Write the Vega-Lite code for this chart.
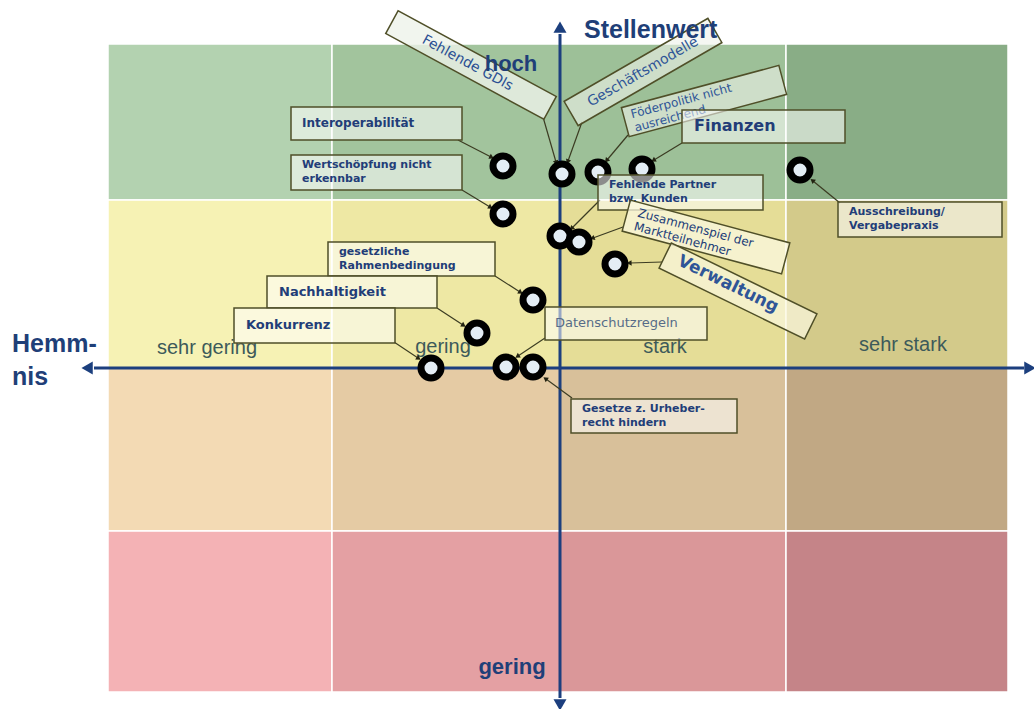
{
  "$schema": "https://vega.github.io/schema/vega-lite/v6.json",
  "width": 1034,
  "height": 709,
  "autosize": {"type": "none"},
  "padding": 0,
  "background": "white",
  "config": {"view": {"stroke": null}},
  "datasets": {
    "cells": [
      {"cell": "a1", "x": 108, "x2": 332, "y": 44, "y2": 200},
      {"cell": "a2", "x": 332, "x2": 560, "y": 44, "y2": 200},
      {"cell": "a3", "x": 560, "x2": 786, "y": 44, "y2": 200},
      {"cell": "a4", "x": 786, "x2": 1008, "y": 44, "y2": 200},
      {"cell": "b1", "x": 108, "x2": 332, "y": 200, "y2": 368},
      {"cell": "b2", "x": 332, "x2": 560, "y": 200, "y2": 368},
      {"cell": "b3", "x": 560, "x2": 786, "y": 200, "y2": 368},
      {"cell": "b4", "x": 786, "x2": 1008, "y": 200, "y2": 368},
      {"cell": "c1", "x": 108, "x2": 332, "y": 368, "y2": 531},
      {"cell": "c2", "x": 332, "x2": 560, "y": 368, "y2": 531},
      {"cell": "c3", "x": 560, "x2": 786, "y": 368, "y2": 531},
      {"cell": "c4", "x": 786, "x2": 1008, "y": 368, "y2": 531},
      {"cell": "d1", "x": 108, "x2": 332, "y": 531, "y2": 692},
      {"cell": "d2", "x": 332, "x2": 560, "y": 531, "y2": 692},
      {"cell": "d3", "x": 560, "x2": 786, "y": 531, "y2": 692},
      {"cell": "d4", "x": 786, "x2": 1008, "y": 531, "y2": 692}
    ],
    "rowlabels": [
      {"t": "sehr gering", "x": 207, "y": 348},
      {"t": "gering", "x": 443, "y": 347},
      {"t": "stark", "x": 665, "y": 347},
      {"t": "sehr stark", "x": 903, "y": 345}
    ],
    "axislines": [
      {"x": 94, "y": 368, "x2": 1024, "y2": 368},
      {"x": 560, "y": 34, "x2": 560, "y2": 698}
    ],
    "axisheads": [
      {"x": 89, "y": 368, "ang": 270},
      {"x": 1028, "y": 368, "ang": 90},
      {"x": 560, "y": 29, "ang": 0},
      {"x": 560, "y": 703, "ang": 180}
    ],
    "arrows": [
      {"x": 458, "y": 140, "x2": 491, "y2": 157, "ang": 117},
      {"x": 543, "y": 117, "x2": 556, "y2": 162, "ang": 164},
      {"x": 582, "y": 122, "x2": 568, "y2": 161, "ang": 200},
      {"x": 628, "y": 135, "x2": 607, "y2": 160, "ang": 220},
      {"x": 682, "y": 143, "x2": 654, "y2": 160, "ang": 239},
      {"x": 840, "y": 203, "x2": 813, "y2": 181, "ang": 309},
      {"x": 462, "y": 190, "x2": 490, "y2": 207, "ang": 121},
      {"x": 600, "y": 200, "x2": 572, "y2": 228, "ang": 225},
      {"x": 623, "y": 227, "x2": 593, "y2": 238, "ang": 250},
      {"x": 662, "y": 262, "x2": 630, "y2": 263, "ang": 268},
      {"x": 495, "y": 276, "x2": 520, "y2": 292, "ang": 123},
      {"x": 437, "y": 308, "x2": 463, "y2": 325, "ang": 123},
      {"x": 394, "y": 342, "x2": 418, "y2": 358, "ang": 124},
      {"x": 545, "y": 338, "x2": 518, "y2": 356, "ang": 236},
      {"x": 572, "y": 398, "x2": 546, "y2": 379, "ang": 306}
    ],
    "points": [
      {"x": 503, "y": 166}, {"x": 562, "y": 174}, {"x": 598, "y": 172},
      {"x": 642, "y": 169}, {"x": 800, "y": 170}, {"x": 503, "y": 214},
      {"x": 560, "y": 236}, {"x": 579, "y": 242}, {"x": 615, "y": 264},
      {"x": 533, "y": 300}, {"x": 477, "y": 333}, {"x": 431, "y": 368},
      {"x": 506, "y": 367}, {"x": 533, "y": 367}
    ],
    "tilted": [
      {"id": "gdi", "t": "Fehlende GDIs", "x": 471, "y": 65},
      {"id": "gm", "t": "Geschäftsmodelle", "x": 643, "y": 72},
      {"id": "foe", "t": "Föderpolitik nicht\nausreichend", "x": 704, "y": 101},
      {"id": "zus", "t": "Zusammenspiel der\nMarktteilnehmer", "x": 706, "y": 237},
      {"id": "ver", "t": "Verwaltung", "x": 738, "y": 291}
    ],
    "boxes": [
      {"t": "Interoperabilität", "x": 291, "x2": 462, "y": 107, "y2": 140, "ty": 123},
      {"t": "Wertschöpfung nicht\nerkennbar", "x": 291, "x2": 462, "y": 155, "y2": 190, "ty": 172},
      {"t": "Fehlende Partner\nbzw. Kunden", "x": 598, "x2": 763, "y": 175, "y2": 210, "ty": 192},
      {"t": "Ausschreibung/\nVergabepraxis", "x": 838, "x2": 1002, "y": 202, "y2": 237, "ty": 219},
      {"t": "gesetzliche\nRahmenbedingung", "x": 328, "x2": 495, "y": 242, "y2": 276, "ty": 259},
      {"t": "Nachhaltigkeit", "x": 267, "x2": 437, "y": 276, "y2": 308, "ty": 292},
      {"t": "Konkurrenz", "x": 234, "x2": 395, "y": 308, "y2": 343, "ty": 325},
      {"t": "Datenschutzregeln", "x": 545, "x2": 707, "y": 307, "y2": 340, "ty": 323},
      {"t": "Gesetze z. Urheber-\nrecht hindern", "x": 571, "x2": 737, "y": 399, "y2": 433, "ty": 416},
      {"t": "Finanzen", "x": 682, "x2": 845, "y": 110, "y2": 143, "ty": 126}
    ],
    "titles": [
      {"t": "Stellenwert", "x": 584, "y": 30, "pos": "left"},
      {"t": "hoch", "x": 511, "y": 64, "pos": "center"},
      {"t": "gering", "x": 512, "y": 667, "pos": "center"},
      {"t": "Hemm-", "x": 12, "y": 344, "pos": "left"},
      {"t": "nis", "x": 12, "y": 377, "pos": "left"}
    ]
  },
  "encoding": {
    "x": {"field": "x", "type": "quantitative", "scale": {"domain": [0, 1034], "nice": false, "zero": false}, "axis": null},
    "y": {"field": "y", "type": "quantitative", "scale": {"domain": [0, 709], "reverse": true, "nice": false, "zero": false}, "axis": null}
  },
  "layer": [
    {
      "data": {"name": "cells"},
      "mark": {"type": "rect", "stroke": "white", "strokeWidth": 1.5},
      "encoding": {
        "x2": {"field": "x2"},
        "y2": {"field": "y2"},
        "color": {
          "field": "cell", "type": "nominal", "legend": null,
          "scale": {
            "domain": ["a1","a2","a3","a4","b1","b2","b3","b4","c1","c2","c3","c4","d1","d2","d3","d4"],
            "range": ["#b3d2b0","#a2c49d","#9dc098","#89ad86","#f6f2b4","#eee8a4","#e5dd97","#d3ca8a","#f3dab4","#e5cba4","#d8c09a","#c1a884","#f4b2b5","#e4a0a3","#da9799","#c58488"]
          }
        }
      }
    },
    {
      "data": {"name": "rowlabels"},
      "mark": {"type": "text", "font": "Liberation Sans", "fontSize": 20, "color": "#3d5a5a", "align": "center", "baseline": "middle"},
      "encoding": {"text": {"field": "t"}}
    },
    {
      "data": {"name": "axislines"},
      "mark": {"type": "rule", "color": "#1c3f7e", "strokeWidth": 3},
      "encoding": {"x2": {"field": "x2"}, "y2": {"field": "y2"}}
    },
    {
      "data": {"name": "axisheads"},
      "mark": {"type": "point", "shape": "triangle", "filled": true, "color": "#1c3f7e", "size": 170, "opacity": 1},
      "encoding": {"angle": {"field": "ang", "type": "quantitative", "scale": null}}
    },
    {
      "data": {"name": "arrows"},
      "mark": {"type": "rule", "color": "#3b3b22", "strokeWidth": 1.2},
      "encoding": {"x2": {"field": "x2"}, "y2": {"field": "y2"}}
    },
    {
      "data": {"name": "arrows"},
      "mark": {"type": "point", "shape": "triangle", "filled": true, "color": "#222211", "size": 30, "opacity": 1},
      "encoding": {
        "x": {"field": "x2", "type": "quantitative", "scale": {"domain": [0, 1034], "nice": false, "zero": false}, "axis": null},
        "y": {"field": "y2", "type": "quantitative", "scale": {"domain": [0, 709], "reverse": true, "nice": false, "zero": false}, "axis": null},
        "angle": {"field": "ang", "type": "quantitative", "scale": null}
      }
    },
    {
      "data": {"name": "points"},
      "mark": {"type": "point", "shape": "circle", "filled": true, "fill": "#e4edf5", "stroke": "black", "strokeWidth": 7, "size": 400, "opacity": 1}
    },
    {
      "data": {"name": "tilted"},
      "transform": [{"filter": "datum.id === 'gdi'"}],
      "mark": {"type": "point", "shape": "M-1,-0.144L1,-0.144L1,0.144L-1,0.144Z", "size": 32400, "angle": 28.5, "filled": true, "fill": "#eef2ea", "fillOpacity": 0.8, "stroke": "#4f4f28", "strokeWidth": 1.5, "opacity": 1}
    },
    {
      "data": {"name": "tilted"},
      "transform": [{"filter": "datum.id === 'gdi'"}],
      "mark": {"type": "text", "font": "DejaVu Sans", "fontSize": 14, "color": "#2a4f93", "angle": 28.5, "align": "center", "baseline": "middle", "dx": -4},
      "encoding": {"text": {"field": "t"}}
    },
    {
      "data": {"name": "tilted"},
      "transform": [{"filter": "datum.id === 'gm'"}],
      "mark": {"type": "point", "shape": "M-1,-0.169L1,-0.169L1,0.169L-1,0.169Z", "size": 27556, "angle": 330, "filled": true, "fill": "#eef2ea", "fillOpacity": 0.6, "stroke": "#4f4f28", "strokeWidth": 1.5, "opacity": 1}
    },
    {
      "data": {"name": "tilted"},
      "transform": [{"filter": "datum.id === 'gm'"}],
      "mark": {"type": "text", "font": "DejaVu Sans", "fontSize": 14, "color": "#2f5597", "angle": 330, "align": "center", "baseline": "middle"},
      "encoding": {"text": {"field": "t"}}
    },
    {
      "data": {"name": "tilted"},
      "transform": [{"filter": "datum.id === 'foe'"}],
      "mark": {"type": "point", "shape": "M-1,-0.184L1,-0.184L1,0.184L-1,0.184Z", "size": 26569, "angle": 345, "filled": true, "fill": "#eef2ea", "fillOpacity": 0.6, "stroke": "#4f4f28", "strokeWidth": 1.5, "opacity": 1}
    },
    {
      "data": {"name": "tilted"},
      "transform": [{"filter": "datum.id === 'foe'"}],
      "mark": {"type": "text", "font": "DejaVu Sans", "fontSize": 12, "lineHeight": 14, "lineBreak": "\n", "color": "#2f5597", "angle": 345, "align": "left", "baseline": "middle", "dx": -74, "dy": -6},
      "encoding": {"text": {"field": "t"}}
    },
    {
      "data": {"name": "boxes"},
      "mark": {"type": "rect", "fill": "#ffffff", "fillOpacity": 0.55, "stroke": "#4f4f28", "strokeWidth": 1.5},
      "encoding": {"x2": {"field": "x2"}, "y2": {"field": "y2"}}
    },
    {
      "data": {"name": "boxes"},
      "transform": [{"filter": {"field": "t", "oneOf": ["Wertschöpfung nicht\nerkennbar", "Fehlende Partner\nbzw. Kunden", "Ausschreibung/\nVergabepraxis", "gesetzliche\nRahmenbedingung", "Gesetze z. Urheber-\nrecht hindern"]}}],
      "mark": {"type": "text", "font": "DejaVu Sans", "fontWeight": "bold", "fontSize": 11, "lineHeight": 14, "lineBreak": "\n", "color": "#223d78", "align": "left", "baseline": "middle", "dx": 11, "dy": -7},
      "encoding": {"y": {"field": "ty", "type": "quantitative", "scale": {"domain": [0, 709], "reverse": true, "nice": false, "zero": false}, "axis": null}, "text": {"field": "t"}}
    },
    {
      "data": {"name": "boxes"},
      "transform": [{"filter": {"field": "t", "oneOf": ["Interoperabilität"]}}],
      "mark": {"type": "text", "font": "DejaVu Sans", "fontWeight": "bold", "fontSize": 12, "color": "#223d78", "align": "left", "baseline": "middle", "dx": 11},
      "encoding": {"y": {"field": "ty", "type": "quantitative", "scale": {"domain": [0, 709], "reverse": true, "nice": false, "zero": false}, "axis": null}, "text": {"field": "t"}}
    },
    {
      "data": {"name": "boxes"},
      "transform": [{"filter": {"field": "t", "oneOf": ["Nachhaltigkeit", "Konkurrenz"]}}],
      "mark": {"type": "text", "font": "DejaVu Sans", "fontWeight": "bold", "fontSize": 13, "color": "#223d78", "align": "left", "baseline": "middle", "dx": 12},
      "encoding": {"y": {"field": "ty", "type": "quantitative", "scale": {"domain": [0, 709], "reverse": true, "nice": false, "zero": false}, "axis": null}, "text": {"field": "t"}}
    },
    {
      "data": {"name": "boxes"},
      "transform": [{"filter": {"field": "t", "oneOf": ["Finanzen"]}}],
      "mark": {"type": "text", "font": "DejaVu Sans", "fontWeight": "bold", "fontSize": 16, "color": "#223d78", "align": "left", "baseline": "middle", "dx": 12},
      "encoding": {"y": {"field": "ty", "type": "quantitative", "scale": {"domain": [0, 709], "reverse": true, "nice": false, "zero": false}, "axis": null}, "text": {"field": "t"}}
    },
    {
      "data": {"name": "boxes"},
      "transform": [{"filter": {"field": "t", "oneOf": ["Datenschutzregeln"]}}],
      "mark": {"type": "text", "font": "DejaVu Sans", "fontSize": 13, "color": "#566c88", "align": "left", "baseline": "middle", "dx": 10},
      "encoding": {"y": {"field": "ty", "type": "quantitative", "scale": {"domain": [0, 709], "reverse": true, "nice": false, "zero": false}, "axis": null}, "text": {"field": "t"}}
    },
    {
      "data": {"name": "tilted"},
      "transform": [{"filter": "datum.id === 'zus'"}],
      "mark": {"type": "point", "shape": "M-1,-0.194L1,-0.194L1,0.194L-1,0.194Z", "size": 27225, "angle": 15, "filled": true, "fill": "#fbf8e0", "fillOpacity": 0.75, "stroke": "#4f4f28", "strokeWidth": 1.5, "opacity": 1}
    },
    {
      "data": {"name": "tilted"},
      "transform": [{"filter": "datum.id === 'zus'"}],
      "mark": {"type": "text", "font": "DejaVu Sans", "fontSize": 12, "lineHeight": 14, "lineBreak": "\n", "color": "#223d78", "angle": 15, "align": "left", "baseline": "middle", "dx": -72, "dy": -6},
      "encoding": {"text": {"field": "t"}}
    },
    {
      "data": {"name": "tilted"},
      "transform": [{"filter": "datum.id === 'ver'"}],
      "mark": {"type": "point", "shape": "M-1,-0.173L1,-0.173L1,0.173L-1,0.173Z", "size": 26244, "angle": 26, "filled": true, "fill": "#fbf8e0", "fillOpacity": 0.7, "stroke": "#4f4f28", "strokeWidth": 1.5, "opacity": 1}
    },
    {
      "data": {"name": "tilted"},
      "transform": [{"filter": "datum.id === 'ver'"}],
      "mark": {"type": "text", "font": "DejaVu Sans", "fontWeight": "bold", "fontSize": 17, "color": "#2f5597", "angle": 26, "align": "center", "baseline": "middle", "dx": -12, "dy": -2},
      "encoding": {"text": {"field": "t"}}
    },
    {
      "data": {"name": "titles"},
      "transform": [{"filter": "datum.pos === 'left'"}],
      "mark": {"type": "text", "font": "Liberation Sans", "fontWeight": "bold", "fontSize": 25, "color": "#1f3f78", "align": "left", "baseline": "middle"},
      "encoding": {"text": {"field": "t"}}
    },
    {
      "data": {"name": "titles"},
      "transform": [{"filter": "datum.pos === 'center'"}],
      "mark": {"type": "text", "font": "Liberation Sans", "fontWeight": "bold", "fontSize": 22, "color": "#1f3f78", "align": "center", "baseline": "middle"},
      "encoding": {"text": {"field": "t"}}
    }
  ]
}
